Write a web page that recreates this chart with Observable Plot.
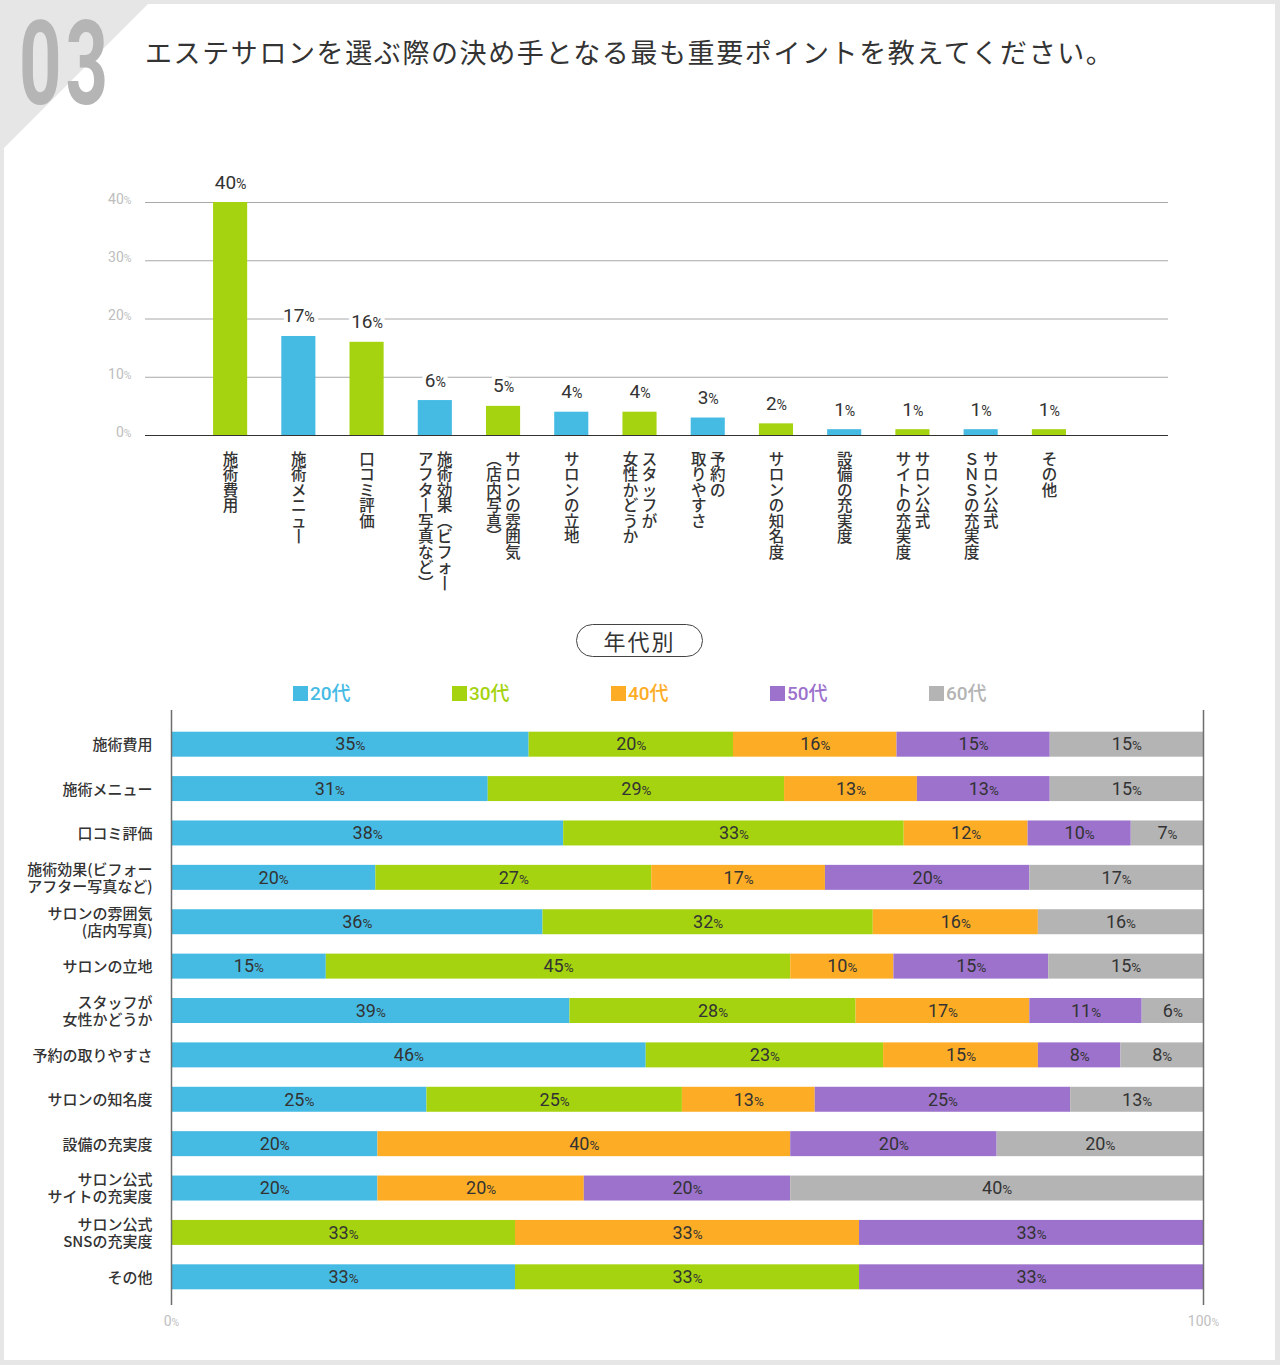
<!DOCTYPE html>
<html><head><meta charset="utf-8">
<script src="https://cdn.jsdelivr.net/npm/d3@7"></script>
<script src="https://cdn.jsdelivr.net/npm/@observablehq/plot@0.6"></script>
<style>
html,body{margin:0;padding:0;}
body{width:1280px;height:1365px;background:#e6e6e6;position:relative;overflow:hidden;font-family:"Noto Sans CJK JP","Noto Sans",sans-serif;}
#panel{position:absolute;left:4px;top:4px;width:1271px;height:1356px;background:#fff;}
#corner{position:absolute;left:4px;top:4px;width:0;height:0;border-top:144px solid #e6e6e6;border-right:144px solid transparent;}
#num{position:absolute;left:19px;top:6px;font-family:Roboto,sans-serif;font-weight:700;font-size:116px;line-height:1;color:#b5b5b5;transform:scaleX(0.64);transform-origin:0 0;white-space:nowrap;letter-spacing:6px;}
#title{position:absolute;left:145px;top:36px;font-size:27px;line-height:1.2;color:#333;letter-spacing:1.6px;white-space:nowrap;}
#topchart{position:absolute;left:0;top:150px;}
#pill{position:absolute;left:576px;top:624px;width:125px;height:31px;border:1.5px solid #444;border-radius:17px;text-align:center;font-size:22px;line-height:31px;color:#333;letter-spacing:2px;}
#legend{position:absolute;left:293px;top:681px;height:26px;}
.li{position:absolute;top:0;white-space:nowrap;font-family:Roboto,"Noto Sans CJK JP",sans-serif;font-size:19px;line-height:26px;font-weight:500;}
.sw{display:inline-block;width:15px;height:15px;vertical-align:-1px;margin-right:2px;}
#bottomchart{position:absolute;left:0;top:700px;}
</style>
</head><body>
<div id="panel"></div>
<div id="corner"></div>
<div id="num">03</div>
<div id="title">エステサロンを選ぶ際の決め手となる最も重要ポイントを教えてください。</div>
<div id="topchart"></div>
<div id="pill">年代別</div>
<div id="legend"></div>
<div id="bottomchart"></div>
<script>
// ---------- data ----------
const topCategories = ["施術費用","施術メニュー","口コミ評価","施術効果(ビフォー\nアフター写真など)","サロンの雰囲気\n(店内写真)","サロンの立地","スタッフが\n女性かどうか","予約の\n取りやすさ","サロンの知名度","設備の充実度","サロン公式\nサイトの充実度","サロン公式\nＳＮＳの充実度","その他"];
const topValues = [40,17,16,6,5,4,4,3,2,1,1,1,1];
const topTicks = [0,10,20,30,40];

const rowLabels = ["施術費用","施術メニュー","口コミ評価","施術効果(ビフォー\nアフター写真など)","サロンの雰囲気\n(店内写真)","サロンの立地","スタッフが\n女性かどうか","予約の取りやすさ","サロンの知名度","設備の充実度","サロン公式\nサイトの充実度","サロン公式\nSNSの充実度","その他"];
const ages = ["20代","30代","40代","50代","60代"];
const age20 = [35,31,38,20,36,15,39,46,25,20,20,0,33];
const age30 = [20,29,33,27,32,45,28,23,25,0,0,33,33];
const age40 = [16,13,12,17,16,10,17,15,13,40,20,33,0];
const age50 = [15,13,10,20,0,15,11,8,25,20,20,33,33];
const age60 = [15,15,7,17,16,15,6,8,13,20,40,0,0];
const axisTicks = [0,1];

// ---------- styles ----------
const GREEN = "#a5d30f", BLUE = "#45bbe4", ORANGE = "#fdad25", PURPLE = "#9c72cd", GRAY = "#b4b4b4";
const ageColors = [BLUE, GREEN, ORANGE, PURPLE, GRAY];
const NUMFONT = "Roboto, 'Noto Sans CJK JP', sans-serif";
const JPFONT = "'Noto Sans CJK JP', sans-serif";

// vertical (tategaki) presentation: one character per line
const vmap = {"ー": "丨", "(": "︵", ")": "︶"};
const verticalize = s => Array.from(s).map(ch => vmap[ch] || ch).join("\n");

// ---------- top chart ----------
const topData = topCategories.map((label, i) => ({label, value: topValues[i], i, lines: label.split("\n")}));
const singles = topData.filter(d => d.lines.length === 1);
const doubles = topData.filter(d => d.lines.length === 2);
const vLabel = {frameAnchor: "bottom", dy: 18, lineAnchor: "top", lineHeight: 1.0, fontSize: 15.5, fontWeight: 500, fontFamily: JPFONT, fill: "#333"};
const valueLabel = {x: "label", y: "value", text: d => d.value + "%", lineAnchor: "bottom", dy: -14, fontSize: 19, fontWeight: 400, fontFamily: NUMFONT};

const topPlot = Plot.plot({
  width: 1280, height: 450,
  marginLeft: 145, marginRight: 112, marginTop: 52, marginBottom: 165,
  x: {type: "band", domain: topCategories, range: [196, 1083], paddingInner: 0.5, paddingOuter: 0.25, round: false, axis: null},
  y: {domain: [0, 40], axis: null},
  marks: [
    Plot.ruleY(topTicks.filter(t => t > 0), {stroke: "#a8a8a8", strokeWidth: 1}),
    Plot.axisY(topTicks, {tickSize: 0, tickPadding: 14, dy: -3, tickFormat: d => d + "%", fill: "#bdbdbd", fontSize: 14, fontFamily: NUMFONT, label: null}),
    Plot.barY(topData, {x: "label", y: "value", fill: d => (d.i % 2 ? BLUE : GREEN)}),
    Plot.ruleY([0], {stroke: "#333", strokeWidth: 1.2}),
    Plot.text(topData, {...valueLabel, fill: "white", stroke: "white", strokeWidth: 8}),
    Plot.text(topData, {...valueLabel, fill: "#333"}),
    Plot.text(singles, {x: "label", text: d => verticalize(d.lines[0]), ...vLabel}),
    Plot.text(doubles, {x: "label", text: d => verticalize(d.lines[0]), dx: 9.5, ...vLabel}),
    Plot.text(doubles, {x: "label", text: d => verticalize(d.lines[1]), dx: -9.5, ...vLabel})
  ]
});
document.getElementById("topchart").appendChild(topPlot);

// ---------- legend ----------
const legend = document.getElementById("legend");
ages.forEach((a, i) => {
  const el = document.createElement("div");
  el.className = "li";
  el.style.left = (i * 159) + "px";
  el.style.color = ageColors[i];
  el.innerHTML = `<span class="sw" style="background:${ageColors[i]}"></span>${a}`;
  legend.appendChild(el);
});

// ---------- bottom chart ----------
const series = [age20, age30, age40, age50, age60];
const bottomData = [];
rowLabels.forEach((row, r) => {
  ages.forEach((age, k) => {
    const v = series[k][r];
    if (v > 0) bottomData.push({row, age, value: v});
  });
});

const bottomPlot = Plot.plot({
  width: 1280, height: 640,
  marginLeft: 171, marginRight: 77, marginTop: 22, marginBottom: 41,
  x: {domain: [0, 1], axis: null},
  y: {type: "band", domain: rowLabels, padding: 0, round: false, axis: null},
  color: {domain: ages, range: ageColors},
  marks: [
    Plot.barX(bottomData, Plot.stackX({offset: "normalize", x: "value", y: "row", z: "age", fill: "age", insetTop: 9.7, insetBottom: 9.7})),
    Plot.text(bottomData, Plot.stackX({offset: "normalize", x: "value", y: "row", z: "age", text: d => d.value + "%", fontSize: 18, fontWeight: 400, fontFamily: NUMFONT, fill: "#333"})),
    Plot.ruleX(axisTicks, {stroke: "#6e6e6e", strokeWidth: 1.5, insetTop: -12, insetBottom: -6}),
    Plot.axisY({tickSize: 0, tickPadding: 19, fontSize: 15, fontWeight: 500, fontFamily: JPFONT, fill: "#333", lineHeight: 1.13, label: null}),
    Plot.text(axisTicks, {x: d => d, text: d => (d * 100) + "%", frameAnchor: "bottom", dy: 26, fontSize: 14, fontFamily: NUMFONT, fill: "#c0c0c0"})
  ]
});
document.getElementById("bottomchart").appendChild(bottomPlot);

// smaller "%" sign
document.querySelectorAll("svg text").forEach(t => {
  if (t.children.length) return;
  const m = /^(\d+)%$/.exec(t.textContent);
  if (!m) return;
  t.textContent = m[1];
  const ts = document.createElementNS("http://www.w3.org/2000/svg", "tspan");
  ts.setAttribute("font-size", "0.75em");
  ts.textContent = "%";
  t.appendChild(ts);
});
</script>
</body></html>
